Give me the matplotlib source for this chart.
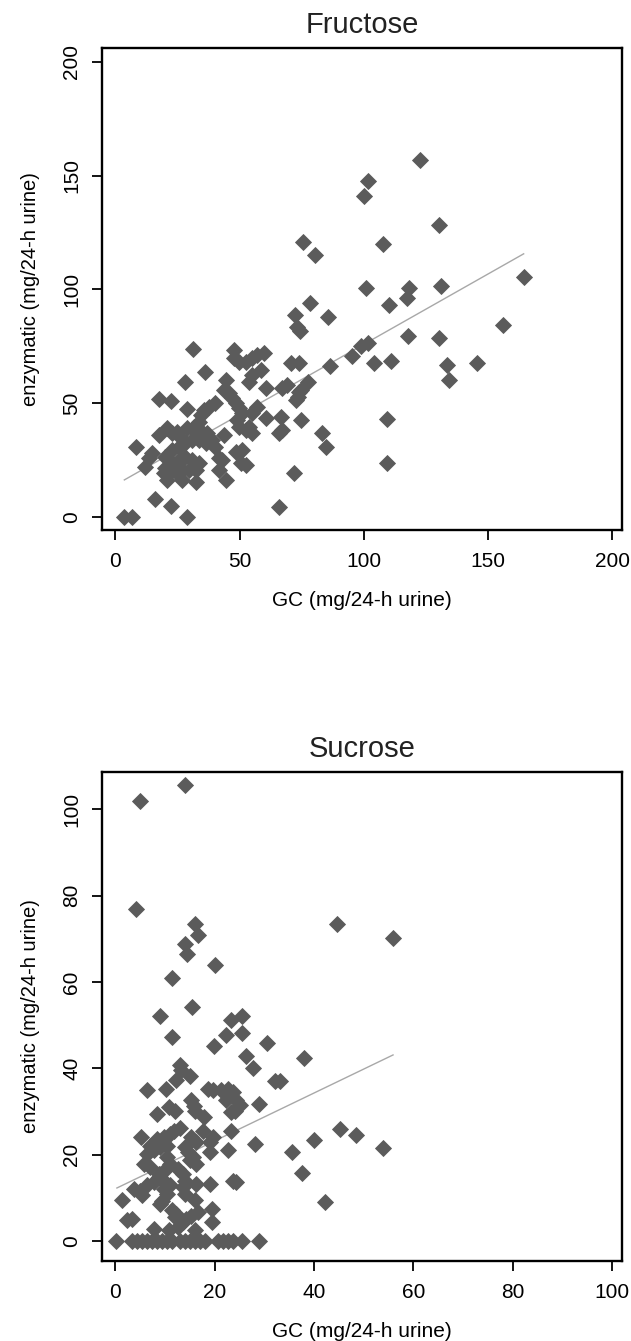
import numpy as np
import matplotlib
matplotlib.use("Agg")
import matplotlib.pyplot as plt

plt.rcParams["font.family"] = ["Liberation Sans", "DejaVu Sans"]

# Fructose panel (GC vs enzymatic, mg/24-h urine)
fru_gc = [3.4, 6.7, 28.9, 15.9, 22.2, 65.9, 71.9, 8.1, 12.1, 14.8, 17.5, 17.5, 22.2, 28.9, 31.3, 28.2, 36, 44.4, 47.7,
          47.7, 49.7, 52.4, 55.1, 57.1, 59.8,
          55.1, 53.8, 58.5, 60.5, 67.2, 69.2, 70.6, 73.9,
          72.5, 73, 74.2, 73.9, 72.6, 74.6, 66.5, 67.2, 65.9,
          60.5, 57.1, 55.1, 53.8, 55.1, 52.4, 49.7, 49,
          43.7, 45.7, 47, 48.4, 49.7, 51.1,
          40.3, 37.6, 35.6, 34.3, 33.6,
          28.9, 31.6, 32.3, 34.9, 37,
          20.8, 22.8, 24.9, 26.2, 43.7,
          48.4, 51.1, 50.4, 52.4,
          40.3, 36.3, 38.9, 41.6, 43, 41.6, 44.4,
          22.8, 25.5, 28.2, 30.9, 33.6,
          20.1, 22.8, 25.5, 28.2, 30.9, 33.6, 32.3, 29.6, 26.9, 24.2, 21.5, 20.8, 26.9, 32.3,
          13.4, 20.1, 19.5,
          75.6, 80.3, 78.3, 85.7, 83, 85, 86.4, 95.1, 77.6, 74.9, 73.6,
          122.7, 101.9, 100.3, 130.4, 107.9, 101, 118.1, 117.3, 131, 110.3, 164.4, 156,
          101.6, 99, 118, 130.4, 104, 111, 133.6, 134.3, 145.8, 109.4, 109.4]
fru_enz = [0, 0, 0, 7.9, 4.8, 4.5, 19.2, 30.9, 22.1, 28, 36, 51.9, 51, 47.3, 73.7, 59.5, 63.6, 60.2, 73.4,
           69.7, 68.3, 68.3, 69.7, 71.2, 72.2,
           62.4, 59.5, 64.6, 56.6, 56.6, 58, 67.5, 67.5,
           88.8, 83.5, 81.5, 55.1, 51.4, 42.6, 44.1, 38.2, 36.8,
           43.4, 48.5, 45.6, 39.7, 36.8, 38.2, 39.7, 42.6,
           55.8, 54.4, 52.2, 50, 47.8, 45.6,
           50, 48.5, 47, 44.8, 41.9,
           39, 39.7, 37.5, 37.5, 36.8,
           39, 36.8, 37.5, 35.3, 36,
           28.7, 29.5, 23.6, 22.9,
           30.9, 32.4, 33.8, 25.8, 25.1, 20.7, 16.3,
           29.5, 30.9, 32.4, 33.8, 33.8,
           26.5, 23.6, 25.1, 26.5, 25.1, 23.6, 20.7, 20.7, 20.7, 19.9, 19.2, 16.3, 16.3, 15.5,
           25.8, 21.4, 19.2,
           120.7, 114.9, 93.9, 87.8, 36.8, 30.9, 66.5, 70.8, 59.5, 55.8, 52.9,
           157, 147.7, 140.8, 128.4, 119.9, 100.5, 100.5, 96, 101.5, 93, 105.6, 84.4,
           76.3, 75, 79.6, 78.7, 67.5, 68.6, 66.8, 60, 67.5, 43.2, 23.9]
fru_fit_x = [3.6, 164.4]
fru_fit_y = [16.3, 115.6]

# Sucrose panel
suc_gc = [14.1, 4.9, 4.1, 16, 16.7, 14, 14.5, 20.1, 11.3, 15.5,
          9, 23.3, 25.5, 22.3, 25.5, 11.3, 19.8, 30.5, 26.2, 27.8, 32.2,
          13, 13.3, 12.3, 15.1, 6.3, 10.2,
          18.7, 19.7, 21.3, 22.7, 23.7,
          22.3, 24.3, 25, 24, 23.3, 29,
          15.3, 15.8, 16, 10.7, 12, 8.3, 17.8,
          13, 11.8, 11, 9.7, 8.3, 5.1, 17.7, 15.3, 16.2, 23.3, 19, 19.7, 28.2,
          7, 6.3, 7.7, 9, 10.3, 22.7, 19,
          14, 14.7, 15.7, 16.3, 15,
          10.3, 11, 10, 8.7, 5.7, 7, 12.7, 13.7,
          8.7, 7.7, 6.3, 5, 3.7, 5.3,
          10, 11, 9.7, 10.3, 9.3, 9,
          14, 13.7, 14, 16.3, 19, 23.7, 24.3,
          1.3, 2.3, 3.3, 16, 11.3, 12.3, 12,
          14.3, 15.3, 16.7, 13.7, 12.7, 19.5, 19.5, 7.7, 10.7, 16,
          0.2, 3.3, 4.3, 5.3, 6.3, 7.3, 8.3, 9.3, 10.3, 11.3, 13, 14, 15, 16, 17, 18,
          20.7, 21.7, 22.7, 23.7, 25.5, 29,
          35.5, 37.6, 37.9, 33.2, 44.6, 55.8, 45.3, 48.5, 39.9, 53.8, 42.3]
suc_enz = [105.7, 101.8, 76.9, 73.5, 70.8, 68.7, 66.4, 64, 61, 54.3,
           52.2, 51.2, 52.2, 47.8, 48.1, 47.2, 45.1, 45.8, 42.9, 40.1, 37,
           40.7, 39.5, 37.3, 38.3, 34.9, 35.3,
           35.3, 34.9, 34.9, 35.3, 34.5,
           32.6, 32.6, 31.4, 30.2, 29.9, 31.8,
           32.6, 31.2, 30.2, 31, 30.2, 29.5, 28.7,
           26.2, 25.6, 24.8, 24.1, 23.7, 24.2, 25.6, 24.2, 22.9, 25.6, 22.9, 24.1, 22.4,
           22.1, 20.2, 21, 21.8, 22.1, 21, 20.6,
           21.8, 20.6, 19.4, 17.9, 18.7,
           19.4, 17.9, 16.4, 15.6, 17.9, 17.1, 16.7, 15.6,
           14.8, 13.7, 12.9, 11.7, 12.1, 10.6,
           13.7, 12.9, 12.1, 11, 9.4, 8.6,
           14, 12.5, 11, 13.3, 13.3, 14, 13.7,
           9.6, 4.8, 5.2, 9.6, 7.1, 6.3, 5.6,
           5.2, 5.9, 6.7, 4.4, 3.2, 7.5, 4.4, 2.9, 2.5, 2.5,
           0, 0, 0, 0, 0, 0, 0, 0, 0, 0, 0, 0, 0, 0, 0, 0,
           0, 0, 0, 0, 0, 0,
           20.6, 15.7, 42.4, 37, 73.3, 70.2, 25.9, 24.6, 23.3, 21.5, 9]
suc_fit_x = [0.3, 55.9]
suc_fit_y = [12.3, 43.1]

W, H = 631, 1341
fig = plt.figure(figsize=(W / 100, H / 100), dpi=100)

# title, x, y, fit x, fit y, xlim, ylim, ticks, bottom edge (px), height (px)
panels = [
    ("Fructose", fru_gc, fru_enz, fru_fit_x, fru_fit_y, (-5.4, 204), (-5.7, 206), [0, 50, 100, 150, 200], 530, 482),
    ("Sucrose", suc_gc, suc_enz, suc_fit_x, suc_fit_y, (-2.7, 102), (-4.6, 108.6), [0, 20, 40, 60, 80, 100], 1261, 489),
]

for title, gx, ez, fx, fy, xl, yl, ticks, ybot, h in panels:
    ax = fig.add_axes([102 / W, (H - ybot) / H, 520 / W, h / H])
    ax.plot(fx, fy, color="#a8a8a8", lw=1.0, zorder=1)
    ax.plot(gx, ez, "D", color="#5b5b5b", ms=8.3, mec="#5b5b5b", mew=0.6, zorder=2)
    ax.set_xlim(*xl)
    ax.set_ylim(*yl)
    ax.set_xticks(ticks)
    ax.set_yticks(ticks)
    ax.tick_params(direction="out", length=7, width=1.3, labelsize=15, pad=9)
    ax.tick_params(axis="y", labelrotation=90, pad=8)
    for lab in ax.get_yticklabels():
        lab.set_va("center")
    for sp in ax.spines.values():
        sp.set_linewidth(1.7)
    ax.set_title(title, fontsize=21, pad=11, color="#222222")
    ax.set_xlabel("GC (mg/24-h urine)", fontsize=15, labelpad=14)
    ax.set_ylabel("enzymatic (mg/24-h urine)", fontsize=14.5, labelpad=16)

fig.savefig("out.png", dpi=100, facecolor="white")
